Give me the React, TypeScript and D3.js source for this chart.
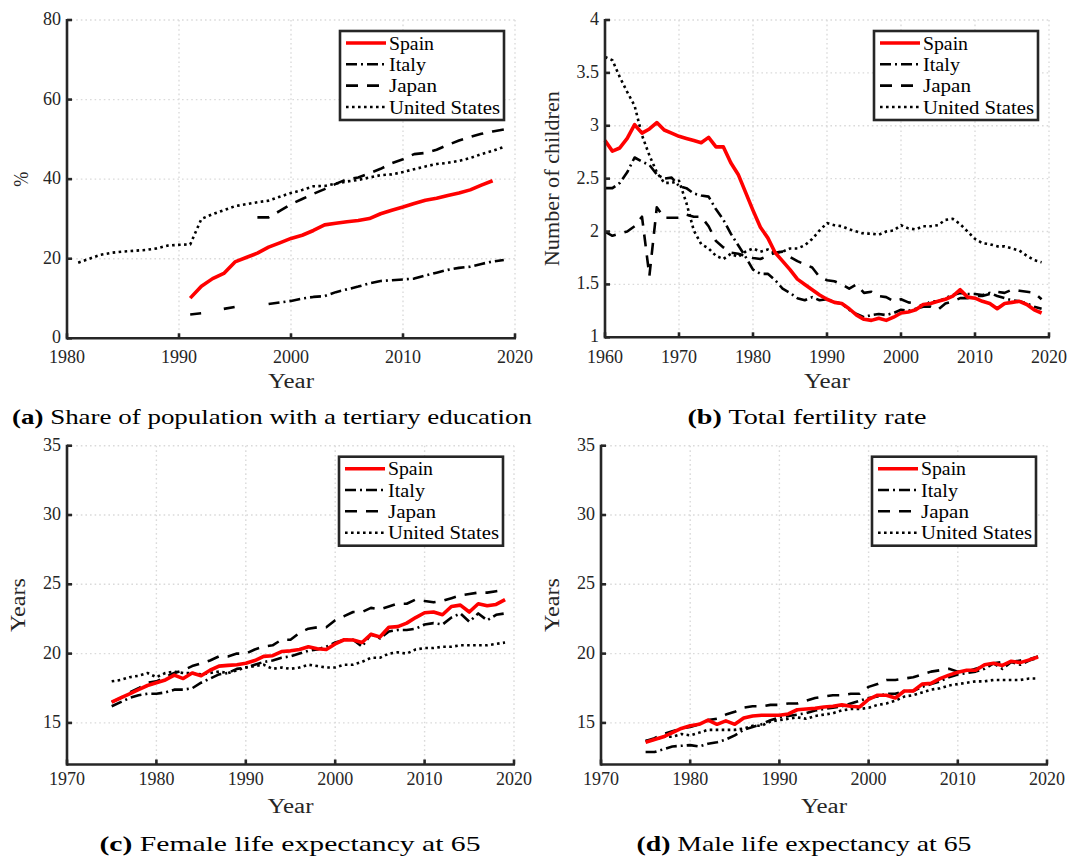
import React from "react";
import * as d3 from "d3";

// ---------- DATA ----------
const seriesNames = ["Spain", "Italy", "Japan", "United States"];
const legendWidths = [45, 37, 48, 111];

// (a) Share of population with a tertiary education (%)
const eduYearsUS = [1981,1982,1983,1984,1985,1986,1987,1988,1989,1990,1991,1992,1993,1994,1995,1996,1997,1998,1999,2000,2001,2002,2003,2004,2005,2006,2007,2008,2009,2010,2011,2012,2013,2014,2015,2016,2017,2018,2019];
const eduUS = [19.0,20.0,21.0,21.5,21.8,22.0,22.2,22.6,23.3,23.5,23.6,30.0,31.2,32.2,33.2,33.7,34.2,34.6,35.6,36.5,37.3,38.2,38.3,38.9,39.4,39.8,40.4,41.0,41.2,41.8,42.5,43.2,43.8,44.1,44.6,45.3,46.3,47.1,48.1];
const eduYearsSpain = [1991,1992,1993,1994,1995,1996,1997,1998,1999,2000,2001,2002,2003,2004,2005,2006,2007,2008,2009,2010,2011,2012,2013,2014,2015,2016,2017,2018];
const eduSpain = [10.1,13.1,15.0,16.3,19.2,20.3,21.4,22.9,24.0,25.1,25.9,27.1,28.5,28.9,29.3,29.6,30.1,31.3,32.2,33.0,33.9,34.7,35.2,35.9,36.5,37.3,38.5,39.6];
const eduYearsItaly = [1991,1992,1993,1994,1995,1996,1997,1998,1999,2000,2001,2002,2003,2004,2005,2006,2007,2008,2009,2010,2011,2012,2013,2014,2015,2016,2017,2018,2019];
const eduItaly = [6.0,6.3,null,7.4,7.9,null,null,8.6,9.0,9.4,10.0,10.4,10.6,11.6,12.3,13.0,13.8,14.4,14.6,14.8,15.0,15.8,16.5,17.2,17.7,18.0,18.7,19.3,19.7];
const eduYearsJapan = [1997,1998,1999,2000,2001,2002,2003,2004,2005,2006,2007,2008,2009,2010,2011,2012,2013,2014,2015,2016,2017,2018,2019];
const eduJapan = [30.4,30.4,32.0,33.7,35.0,36.3,37.5,38.8,40.0,40.4,41.5,42.6,44.0,45.0,46.3,46.6,47.4,48.6,49.7,50.6,51.4,52.0,52.5];

// (b) Total fertility rate
const fertYears = [1960,1961,1962,1963,1964,1965,1966,1967,1968,1969,1970,1971,1972,1973,1974,1975,1976,1977,1978,1979,1980,1981,1982,1983,1984,1985,1986,1987,1988,1989,1990,1991,1992,1993,1994,1995,1996,1997,1998,1999,2000,2001,2002,2003,2004,2005,2006,2007,2008,2009,2010,2011,2012,2013,2014,2015,2016,2017,2018,2019];
const fertSpain = [2.86,2.76,2.79,2.88,3.01,2.93,2.97,3.03,2.96,2.93,2.90,2.88,2.86,2.84,2.89,2.80,2.80,2.65,2.54,2.37,2.20,2.04,1.94,1.80,1.72,1.64,1.55,1.50,1.45,1.40,1.36,1.33,1.32,1.27,1.21,1.17,1.16,1.18,1.16,1.19,1.23,1.24,1.26,1.31,1.32,1.34,1.36,1.39,1.45,1.38,1.37,1.34,1.32,1.27,1.32,1.33,1.34,1.31,1.26,1.23];
const fertItaly = [2.41,2.41,2.46,2.56,2.70,2.66,2.63,2.54,2.50,2.51,2.43,2.41,2.36,2.34,2.33,2.21,2.11,1.98,1.87,1.76,1.64,1.60,1.60,1.54,1.46,1.42,1.37,1.35,1.38,1.35,1.36,1.33,1.32,1.26,1.22,1.19,1.21,1.22,1.21,1.23,1.26,1.25,1.27,1.29,1.34,1.34,1.37,1.40,1.42,1.41,1.41,1.40,1.42,1.39,1.37,1.35,1.34,1.32,1.29,1.27];
const fertJapan = [2.00,1.96,1.98,2.00,2.05,2.14,1.58,2.23,2.13,2.13,2.13,2.16,2.14,2.14,2.05,1.91,1.85,1.80,1.79,1.77,1.75,1.74,1.77,1.80,1.81,1.76,1.72,1.69,1.66,1.57,1.54,1.53,1.50,1.46,1.50,1.42,1.43,1.39,1.38,1.34,1.36,1.33,1.32,1.29,1.29,1.26,1.32,1.34,1.37,1.37,1.39,1.39,1.41,1.43,1.42,1.45,1.44,1.43,1.42,1.36];
const fertUS = [3.65,3.62,3.46,3.32,3.19,2.91,2.72,2.56,2.46,2.46,2.48,2.27,2.01,1.88,1.84,1.77,1.74,1.79,1.76,1.81,1.84,1.81,1.83,1.80,1.81,1.84,1.84,1.87,1.93,2.01,2.08,2.06,2.05,2.02,2.00,1.98,1.98,1.97,2.00,2.01,2.06,2.03,2.02,2.05,2.05,2.06,2.11,2.12,2.07,2.00,1.93,1.89,1.88,1.86,1.86,1.84,1.82,1.77,1.73,1.71];

// (c), (d) Life expectancy at 65
const lifeYears = [1975,1976,1977,1978,1979,1980,1981,1982,1983,1984,1985,1986,1987,1988,1989,1990,1991,1992,1993,1994,1995,1996,1997,1998,1999,2000,2001,2002,2003,2004,2005,2006,2007,2008,2009,2010,2011,2012,2013,2014,2015,2016,2017,2018,2019];
const femSpain = [16.5,16.8,17.1,17.4,17.7,17.9,18.1,18.45,18.2,18.6,18.4,18.8,19.1,19.15,19.2,19.3,19.5,19.8,19.85,20.15,20.2,20.3,20.5,20.35,20.3,20.7,21.0,20.98,20.8,21.4,21.2,21.9,21.95,22.2,22.6,22.95,23.0,22.8,23.4,23.5,23.0,23.6,23.45,23.55,23.9];
const femItaly = [16.2,16.5,16.8,17.0,17.1,17.1,17.2,17.4,17.4,17.5,17.9,18.2,18.5,18.6,18.9,19.0,19.2,19.4,19.5,19.7,19.8,20.0,20.2,20.3,20.5,20.8,21.0,21.0,20.5,21.4,21.1,21.6,21.7,21.7,21.8,22.1,22.2,22.1,22.6,22.9,22.3,22.9,22.4,22.8,22.9];
const femJapan = [16.5,16.8,17.2,17.5,17.9,18.0,18.3,18.6,18.8,19.1,19.3,19.5,19.8,19.8,20.0,20.0,20.3,20.5,20.6,21.0,21.0,21.5,21.8,21.9,21.9,22.4,22.7,23.0,23.0,23.3,23.2,23.4,23.6,23.6,23.9,23.8,23.7,23.8,24.0,24.2,24.3,24.4,24.4,24.5,24.6];
const femUS = [18.0,18.1,18.3,18.4,18.6,18.3,18.6,18.7,18.6,18.6,18.5,18.6,18.7,18.6,18.8,19.0,19.1,19.2,18.9,19.0,18.9,19.0,19.2,19.1,19.0,19.0,19.2,19.2,19.4,19.7,19.7,20.0,20.1,20.0,20.3,20.4,20.4,20.5,20.5,20.6,20.6,20.6,20.6,20.7,20.8];
const maleSpain = [13.6,13.8,14.0,14.3,14.6,14.8,14.9,15.2,14.9,15.15,14.9,15.35,15.5,15.55,15.55,15.55,15.65,15.95,16.0,16.05,16.15,16.2,16.3,16.2,16.15,16.7,17.0,17.0,16.8,17.3,17.3,17.8,17.85,18.2,18.45,18.65,18.8,18.8,19.2,19.3,19.15,19.45,19.35,19.55,19.75];
const maleItaly = [12.9,12.9,13.1,13.3,13.35,13.4,13.3,13.5,13.6,13.8,14.1,14.5,14.7,14.9,15.2,15.4,15.5,15.6,15.7,15.9,16.0,16.1,16.2,16.4,16.6,16.8,16.9,17.1,17.1,17.3,17.3,17.6,17.8,18.0,18.3,18.5,18.6,18.7,18.9,19.3,18.9,19.4,19.2,19.5,19.7];
const maleJapan = [13.7,13.9,14.2,14.4,14.6,14.7,14.9,15.2,15.3,15.6,15.8,16.1,16.2,16.2,16.3,16.3,16.4,16.4,16.6,16.8,16.9,17.0,17.0,17.1,17.1,17.6,17.8,18.1,18.1,18.2,18.3,18.5,18.7,18.8,18.9,18.7,18.7,18.9,19.1,19.3,19.4,19.4,19.5,19.6,19.8];
const maleUS = [13.7,13.8,14.0,14.0,14.2,14.1,14.3,14.5,14.5,14.5,14.5,14.6,14.8,14.8,15.1,15.2,15.3,15.4,15.3,15.5,15.6,15.7,15.9,16.0,16.0,16.1,16.3,16.4,16.6,16.9,17.0,17.2,17.4,17.5,17.7,17.8,17.9,18.0,18.0,18.1,18.1,18.1,18.1,18.2,18.2];

// ticks
const eduXTicks = [1980, 1990, 2000, 2010, 2020];
const eduYTicks = [0, 20, 40, 60, 80];
const fertXTicks = [1960, 1970, 1980, 1990, 2000, 2010, 2020];
const fertYTicks = [1, 1.5, 2, 2.5, 3, 3.5, 4];
const lifeXTicks = [1970, 1980, 1990, 2000, 2010, 2020];
const lifeYTicks = [15, 20, 25, 30, 35];

// ---------- STYLES ----------
const FONT = "Liberation Serif, Times New Roman, DejaVu Serif, serif";
const AXIS = "#262626";
const styles = [
  { stroke: "#ff0000", width: 3.6, dash: "none" },
  { stroke: "#000", width: 2.6, dash: "11,4,2,4" },
  { stroke: "#000", width: 2.6, dash: "12,9" },
  { stroke: "#000", width: 2.6, dash: "2.6,3.4" },
];

type Series = { years: number[]; values: (number | null)[] };

type PanelProps = {
  left: number; right: number; top: number; bottom: number;
  xDomain: [number, number]; yDomain: [number, number];
  xTicks: number[]; yTicks: number[];
  yLabel: string; yLabelX: number; yLabelLen: number;
  series: Series[];
  letter: string; caption: string; captionX: number; captionLen: number;
  tickY: number; xLabelY: number; captionY: number;
};

function Panel(p: PanelProps) {
  const x = d3.scaleLinear().domain(p.xDomain).range([p.left, p.right]);
  const y = d3.scaleLinear().domain(p.yDomain).range([p.bottom, p.top]);
  const line = d3
    .line<[number, number | null]>()
    .defined((d) => d[1] !== null && d[1] !== undefined)
    .x((d) => x(d[0]))
    .y((d) => y(d[1] as number));
  const lgW = 164, lgH = 89;
  const lgX = p.right - 11 - lgW;
  const lgY = p.top + 11;
  const rows = [12, 33.3, 54.6, 76];
  const order = [3, 2, 1, 0];
  return (
    <g>
      {p.xTicks.map((t) => (
        <line key={"gx" + t} x1={x(t)} x2={x(t)} y1={p.top} y2={p.bottom}
          stroke="#dadada" strokeWidth={1.4} strokeDasharray="1.6,3" />
      ))}
      {p.yTicks.map((t) => (
        <line key={"gy" + t} x1={p.left} x2={p.right} y1={y(t)} y2={y(t)}
          stroke="#dadada" strokeWidth={1.4} strokeDasharray="1.6,3" />
      ))}
      {order.map((i) => {
        const s = p.series[i];
        const pts = s.years.map((yr, k) => [yr, s.values[k]] as [number, number | null]);
        const st = styles[i];
        return (
          <path key={"s" + i} d={line(pts) || ""} fill="none" stroke={st.stroke}
            strokeWidth={st.width} strokeDasharray={st.dash} strokeLinejoin="round" />
        );
      })}
      <line x1={p.left} x2={p.right + 1} y1={p.bottom} y2={p.bottom} stroke={AXIS} strokeWidth={2.6} />
      <line x1={p.left} x2={p.left} y1={p.top - 1} y2={p.bottom + 1.3} stroke={AXIS} strokeWidth={2.6} />
      {p.xTicks.map((t) => (
        <line key={"tx" + t} x1={x(t)} x2={x(t)} y1={p.bottom} y2={p.bottom - 5} stroke={AXIS} strokeWidth={2.6} />
      ))}
      {p.yTicks.map((t) => (
        <line key={"ty" + t} x1={p.left} x2={p.left + 5} y1={y(t)} y2={y(t)} stroke={AXIS} strokeWidth={2.6} />
      ))}
      {p.xTicks.map((t) => (
        <text key={"lx" + t} x={x(t)} y={p.tickY} textAnchor="middle" dominantBaseline="central"
          fontFamily={FONT} fontSize={18} fill="#262626">{t}</text>
      ))}
      {p.yTicks.map((t) => (
        <text key={"ly" + t} x={p.left - 6} y={y(t) - 1} textAnchor="end" dominantBaseline="central"
          fontFamily={FONT} fontSize={18} fill="#262626">{String(t)}</text>
      ))}
      <text x={(p.left + p.right) / 2} y={p.xLabelY} textAnchor="middle" dominantBaseline="central"
        fontFamily={FONT} fontSize={20} fill="#262626" textLength={46} lengthAdjust="spacingAndGlyphs">Year</text>
      <text transform={`translate(${p.yLabelX},${(p.top + p.bottom) / 2}) rotate(-90)`} textAnchor="middle"
        dominantBaseline="central" fontFamily={FONT} fontSize={20} fill="#262626"
        textLength={p.yLabelLen} lengthAdjust="spacingAndGlyphs">{p.yLabel}</text>
      <rect x={lgX} y={lgY} width={lgW} height={lgH} fill="#fff" stroke={AXIS} strokeWidth={2.6} />
      {seriesNames.map((n, i) => {
        const st = styles[i];
        return (
          <g key={"lg" + n}>
            <line x1={lgX + 6} x2={lgX + 46} y1={lgY + rows[i]} y2={lgY + rows[i]} stroke={st.stroke}
              strokeWidth={st.width} strokeDasharray={st.dash} />
            <text x={lgX + 49} y={lgY + rows[i]} dominantBaseline="central" fontFamily={FONT} fontSize={19}
              fill="#000" textLength={legendWidths[i]} lengthAdjust="spacingAndGlyphs">{n}</text>
          </g>
        );
      })}
      <text x={p.captionX} y={p.captionY} textAnchor="middle" dominantBaseline="central" fontFamily={FONT}
        fontSize={22} fill="#000" textLength={p.captionLen} lengthAdjust="spacingAndGlyphs">
        <tspan fontWeight="bold">({p.letter})</tspan>
        <tspan> {p.caption}</tspan>
      </text>
    </g>
  );
}

export default function App() {
  return (
    <svg width={1075} height={859} style={{ position: "absolute", left: 0, top: 0, background: "#fff" }}>
      <rect width={1075} height={859} fill="#fff" />
      <Panel left={67} right={515} top={20} bottom={338.3} xDomain={[1980, 2020]} yDomain={[0, 80]}
        xTicks={eduXTicks} yTicks={eduYTicks} yLabel="%" yLabelX={21} yLabelLen={15}
        series={[
          { years: eduYearsSpain, values: eduSpain },
          { years: eduYearsItaly, values: eduItaly },
          { years: eduYearsJapan, values: eduJapan },
          { years: eduYearsUS, values: eduUS },
        ]}
        letter="a" caption="Share of population with a tertiary education" captionX={272} captionLen={520}
        tickY={357} xLabelY={381} captionY={416} />
      <Panel left={605} right={1049} top={20} bottom={337.3} xDomain={[1960, 2020]} yDomain={[1, 4]}
        xTicks={fertXTicks} yTicks={fertYTicks} yLabel="Number of children" yLabelX={552} yLabelLen={175}
        series={[
          { years: fertYears, values: fertSpain },
          { years: fertYears, values: fertItaly },
          { years: fertYears, values: fertJapan },
          { years: fertYears, values: fertUS },
        ]}
        letter="b" caption="Total fertility rate" captionX={807} captionLen={239}
        tickY={357} xLabelY={381} captionY={416} />
      <Panel left={67} right={514} top={445.7} bottom={764.5} xDomain={[1970, 2020]} yDomain={[12, 35]}
        xTicks={lifeXTicks} yTicks={lifeYTicks} yLabel="Years" yLabelX={18} yLabelLen={54}
        series={[
          { years: lifeYears, values: femSpain },
          { years: lifeYears, values: femItaly },
          { years: lifeYears, values: femJapan },
          { years: lifeYears, values: femUS },
        ]}
        letter="c" caption="Female life expectancy at 65" captionX={290} captionLen={381}
        tickY={779} xLabelY={806} captionY={843} />
      <Panel left={601} right={1047} top={445.7} bottom={764.5} xDomain={[1970, 2020]} yDomain={[12, 35]}
        xTicks={lifeXTicks} yTicks={lifeYTicks} yLabel="Years" yLabelX={552} yLabelLen={54}
        series={[
          { years: lifeYears, values: maleSpain },
          { years: lifeYears, values: maleItaly },
          { years: lifeYears, values: maleJapan },
          { years: lifeYears, values: maleUS },
        ]}
        letter="d" caption="Male life expectancy at 65" captionX={804} captionLen={335}
        tickY={779} xLabelY={806} captionY={843} />
    </svg>
  );
}
